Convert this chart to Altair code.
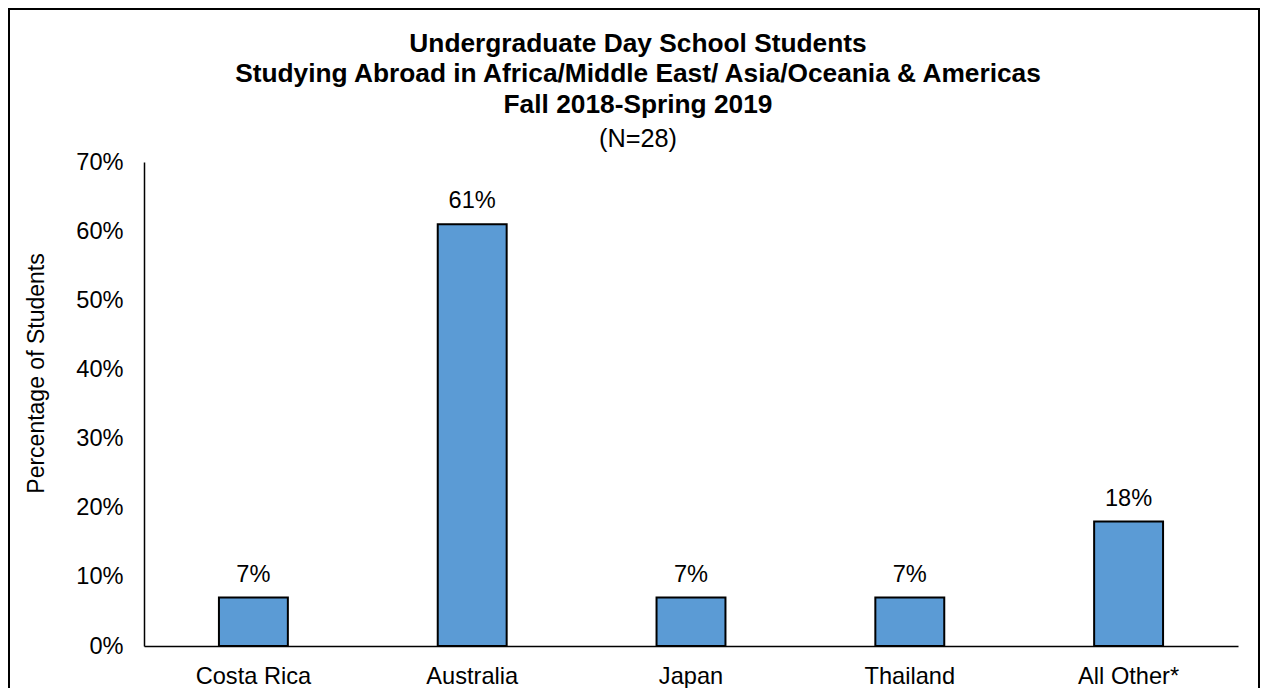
import altair as alt
import pandas as pd

countries = ["Costa Rica", "Australia", "Japan", "Thailand", "All Other*"]
shares = [0.07, 0.61, 0.07, 0.07, 0.18]
y_ticks = [0, 0.1, 0.2, 0.3, 0.4, 0.5, 0.6, 0.7]
title_lines = [
    "Undergraduate Day School Students",
    "Studying Abroad in Africa/Middle East/ Asia/Oceania & Americas",
    "Fall 2018-Spring 2019",
]
subtitle_text = "(N=28)"
y_title = "Percentage of Students"

df = pd.DataFrame({"country": countries, "share": shares})
FONT = "Liberation Sans"
LABEL_SIZE = 23.6

base = alt.Chart(df).encode(
    x=alt.X(
        "country:N",
        sort=countries,
        title=None,
        scale=alt.Scale(paddingInner=0.685, paddingOuter=0.3425),
        axis=alt.Axis(
            labelAngle=0,
            labelFont=FONT,
            labelFontSize=LABEL_SIZE,
            labelColor="#000000",
            labelPadding=18,
            ticks=False,
            tickSize=0,
            domainColor="#000000",
            domainWidth=1.5,
        ),
    ),
    y=alt.Y(
        "share:Q",
        title=y_title,
        scale=alt.Scale(domain=[0, 0.7], nice=False),
        axis=alt.Axis(
            values=y_ticks,
            format=".0%",
            grid=False,
            ticks=False,
            tickSize=0,
            labelFont=FONT,
            labelFontSize=LABEL_SIZE,
            labelColor="#000000",
            labelPadding=21,
            domainColor="#000000",
            domainWidth=1.5,
            titleFont=FONT,
            titleFontSize=23,
            titleFontWeight="normal",
            titleColor="#000000",
            titleAngle=270,
            titleAlign="center",
            titleBaseline="middle",
            titleX=-108,
            titleY=211,
        ),
    ),
)

bars = base.mark_bar(color="#5B9BD5", stroke="#000000", strokeWidth=2)

labels = base.mark_text(
    font=FONT, fontSize=LABEL_SIZE, color="#000000", baseline="alphabetic", dy=-16
).encode(text=alt.Text("share:Q", format=".0%"))

one = pd.DataFrame({"k": [0]})

frame = alt.Chart(one).mark_rect(
    fillOpacity=0, stroke="#000000", strokeWidth=2
).encode(
    x=alt.value(-135), x2=alt.value(1115), y=alt.value(-153), y2=alt.value(600)
)

title_layers = []
for line, ypos in zip(title_lines, [-110, -80, -49]):
    title_layers.append(
        alt.Chart(one).mark_text(
            text=line, font=FONT, fontSize=26.3, fontWeight="bold", color="#000000",
            align="center", baseline="alphabetic",
        ).encode(x=alt.value(494), y=alt.value(ypos))
    )
title_layers.append(
    alt.Chart(one).mark_text(
        text=subtitle_text, font=FONT, fontSize=25.3, color="#000000",
        align="center", baseline="alphabetic",
    ).encode(x=alt.value(494), y=alt.value(-15))
)

chart = (
    alt.layer(frame, bars, labels, *title_layers)
    .properties(
        width=1094,
        height=484,
        autosize=alt.AutoSizeParams(type="none"),
        padding={"left": 136, "top": 154, "right": 22, "bottom": 42},
        background="white",
    )
    .configure_view(strokeWidth=0, stroke="transparent")
)

chart.save("out.html", embed_options={"renderer": "svg", "actions": False})
